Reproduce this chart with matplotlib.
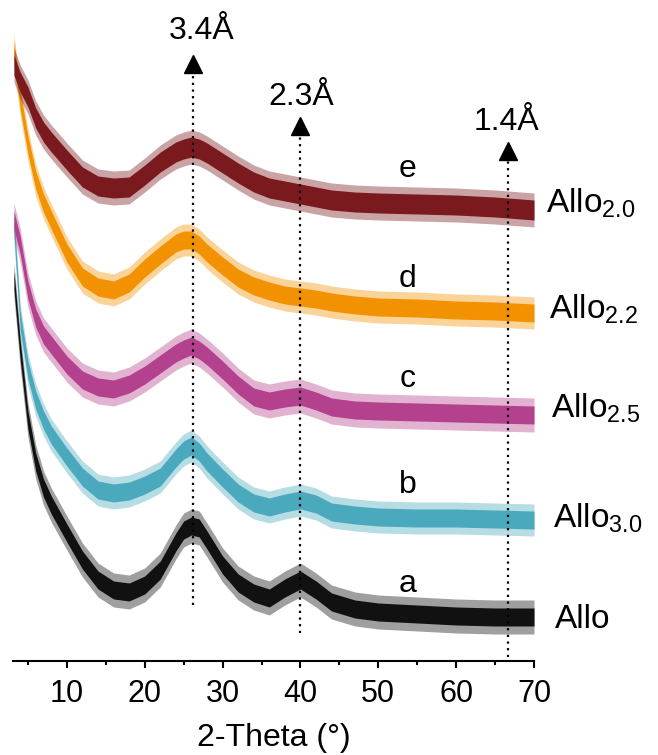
import numpy as np
import matplotlib
matplotlib.use("Agg")
import matplotlib.pyplot as plt

plt.rcParams["font.family"] = ["Liberation Sans", "DejaVu Sans"]
plt.rcParams["mathtext.fontset"] = "custom"
plt.rcParams["mathtext.rm"] = "Liberation Sans"

# 2-theta grid (deg)
two_theta = [3.2, 4, 5, 6, 7, 8, 10, 12, 14, 16, 18, 20, 22, 24, 25, 26, 27, 28,
             30, 32, 34, 36, 38, 40, 42, 44, 47, 50, 55, 60, 65, 70]

# baseline-subtracted intensities (a.u.)
allo    = [337, 267, 197, 155, 129, 112, 84, 57, 37, 27, 25, 32, 47, 75, 87, 91, 89, 77,
           52, 34, 24, 19, 29, 37, 27, 15, 8, 5, 3, 1, 0, 0]
allo_30 = [295, 200, 150, 120, 100, 85, 63, 43, 30, 27, 29, 35, 43, 62, 70, 74, 68, 58,
           42, 27, 17, 13, 17, 20, 16, 8, 5, 3, 2, 2, 1, 0]
allo_25 = [195, 170, 125, 97, 80, 70, 50, 35, 28, 26, 31, 40, 51, 62, 66, 69, 65, 59,
           45, 30, 18, 14, 17, 19, 14, 8, 5, 4, 3, 2, 1, 0]
allo_22 = [263, 213, 168, 133, 110, 93, 60, 36, 26, 23, 30, 45, 58, 70, 73, 73, 68, 60,
           47, 35, 27, 22, 18, 16, 14, 11, 8, 6, 5, 3, 2, 0]
allo_20 = [145, 128, 113, 92, 78, 68, 50, 33, 24, 22, 23, 35, 48, 58, 61, 63, 61, 57,
           47, 37, 28, 22, 19, 16, 13, 10, 8, 7, 6, 5, 3, 0]

series   = [allo, allo_30, allo_25, allo_22, allo_20]
offsets  = [44, 141, 246, 348, 451]
# noise half-widths of the traces (a.u.)
noise_core  = [9, 9, 9, 9, 10]
noise_spike = [17, 16, 17, 16, 17]
colors   = ["#111111", "#4aa9bd", "#b4418e", "#f39200", "#7b1a1e"]
letters  = ["a", "b", "c", "d", "e"]
names    = ["Allo", r"Allo$_{\mathrm{3.0}}$", r"Allo$_{\mathrm{2.5}}$",
            r"Allo$_{\mathrm{2.2}}$", r"Allo$_{\mathrm{2.0}}$"]

peak_pos   = [26.2, 40.0, 66.7]
peak_d     = ["3.4Å", "2.3Å", "1.4Å"]

fig = plt.figure(figsize=(6.58, 7.55), dpi=100)
ax = fig.add_axes([13 / 658, 94 / 755, 521 / 658, 661 / 755])

x = np.array(two_theta)
for y, off, nc, ns, c in zip(series, offsets, noise_core, noise_spike, colors):
    y = np.array(y) + off
    ax.fill_between(x, y - ns, y + ns, color=c, alpha=0.4, lw=0)
    ax.fill_between(x, y - nc, y + nc, color=c, lw=0)

# peak markers: dotted guide + arrow head
line_bottom = [56, 28, 4]
arrow_tip   = [606, 544, 519]
label_xy    = [(27.3, 630), (40.1, 564), (66.5, 539)]
for px, lb, tip, d, (tx, ty) in zip(peak_pos, line_bottom, arrow_tip, peak_d, label_xy):
    ax.plot([px, px], [lb, tip - 18], color="black", ls=(0, (1, 2)), lw=1.6)
    ax.plot(px, tip - 9, marker="^", ms=13, color="black", clip_on=False)
    ax.text(tx, ty, d, ha="center", va="center", fontsize=23)

letter_y = [69, 168, 274, 374, 484]
for l, ly in zip(letters, letter_y):
    ax.text(53.8, ly, l, ha="center", va="baseline", fontsize=23)

name_x = [72.7, 72.4, 72.2, 71.9, 71.6]
name_y = [33, 134, 244, 343, 449]
for n, nx, ny in zip(names, name_x, name_y):
    ax.text(nx, ny, n, ha="left", va="baseline", fontsize=24, clip_on=False)

ax.set_xlim(3.08, 70)
ax.set_ylim(0, 661)
ax.set_xticks([10, 20, 30, 40, 50, 60, 70])
ax.set_xticks([5, 15, 25, 35, 45, 55, 65], minor=True)
ax.set_yticks([])
for s in ["top", "left", "right"]:
    ax.spines[s].set_visible(False)
ax.spines["bottom"].set_linewidth(1.5)
ax.tick_params(axis="x", which="major", direction="out", length=5, width=1.5,
               labelsize=22, pad=8)
ax.tick_params(axis="x", which="minor", direction="out", length=3, width=1.5)
ax.set_xlabel("2-Theta (°)", fontsize=23, labelpad=10)
ax.patch.set_alpha(0)

fig.savefig("out.png", dpi=100)
